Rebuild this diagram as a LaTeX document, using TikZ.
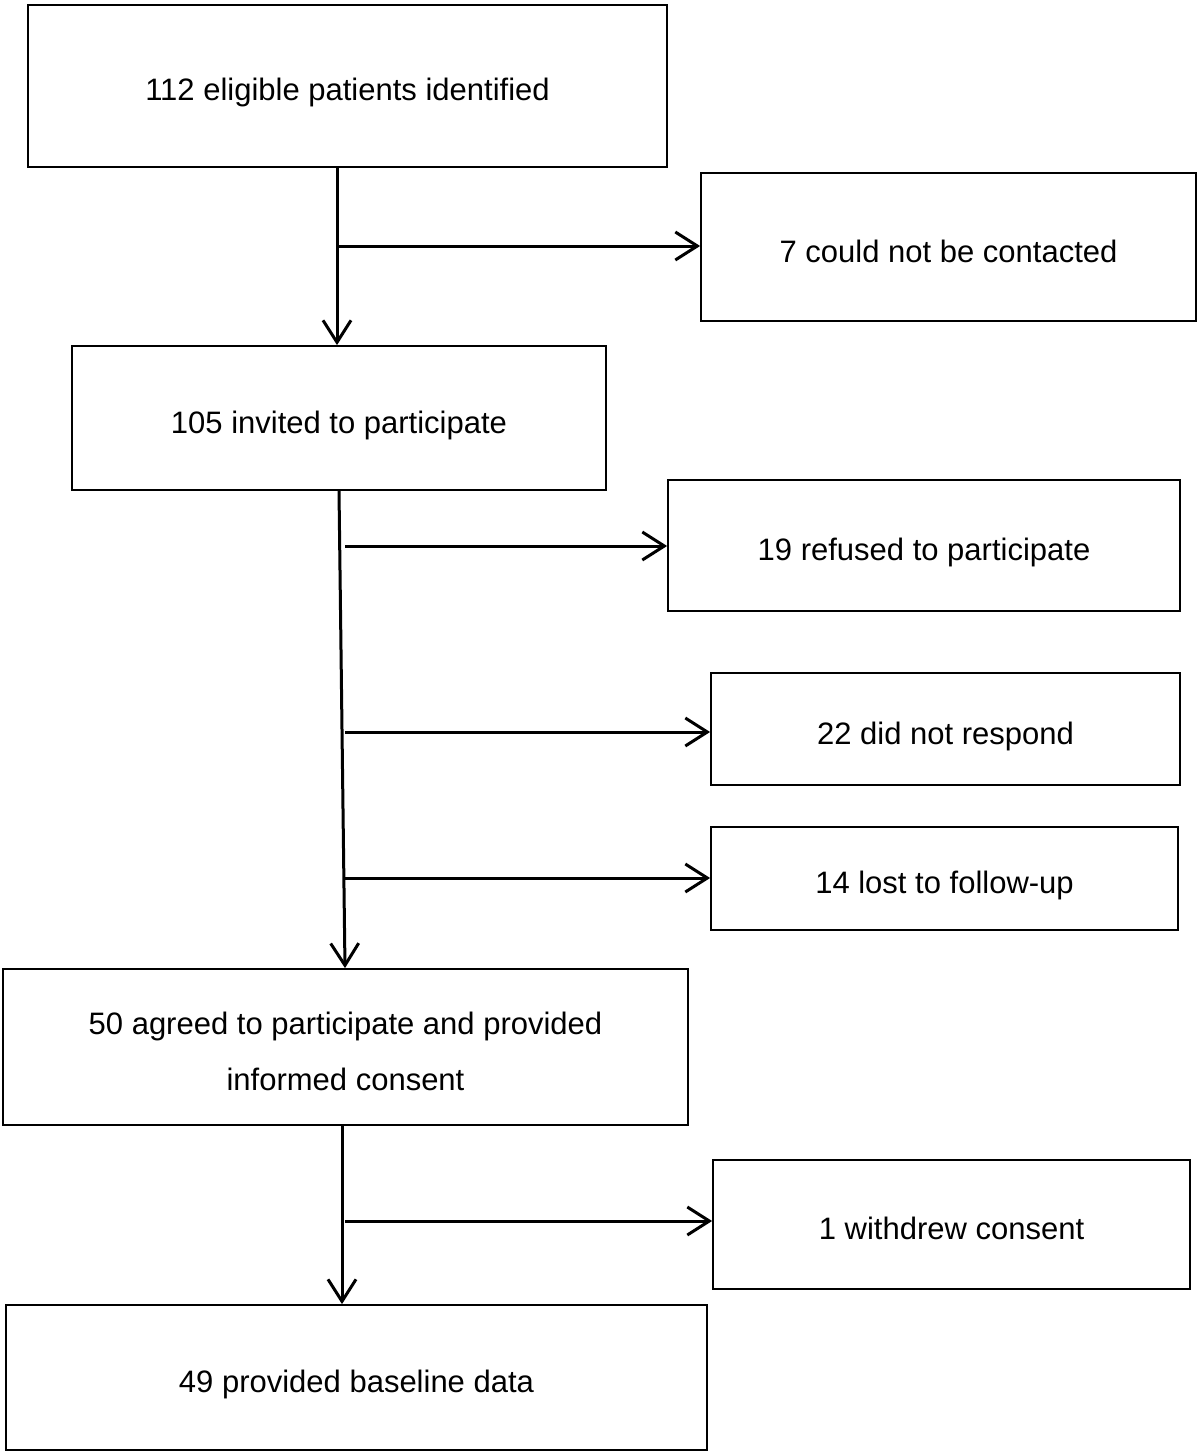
\documentclass[tikz,border=0pt]{standalone}
\usepackage{fontspec}
\setmainfont{Liberation Sans}
\usetikzlibrary{arrows.meta}
\begin{document}
\begin{tikzpicture}[x=1pt,y=-1pt,
  box/.style={draw,line width=1.8pt,inner sep=0pt,align=center,
    text height=30pt,text depth=0pt,
    font=\fontsize{31}{56}\selectfont},
  arr/.style={line width=3pt,-{Straight Barb[length=22pt,width=28pt,line width=3pt]}}]
\useasboundingbox (0,0) rectangle (1200,1453);
\node[box,minimum width=639,minimum height=162] (b1) at (347.5,86) {112 eligible patients identified};
\node[box,minimum width=495,minimum height=148] (b2) at (948.5,247) {7 could not be contacted};
\node[box,minimum width=534,minimum height=144] (b3) at (339,418) {105 invited to participate};
\node[box,minimum width=512,minimum height=131] (b4) at (924,545.5) {19 refused to participate};
\node[box,minimum width=469,minimum height=112] (b5) at (945.5,729) {22 did not respond};
\node[box,minimum width=467,minimum height=103] (b6) at (944.5,878.5) {14 lost to follow-up};
\node[box,minimum width=685,minimum height=156,text height=86pt] (b7) at (345.5,1047) {50 agreed to participate and provided\\informed consent};
\node[box,minimum width=477,minimum height=129] (b8) at (951.5,1224.5) {1 withdrew consent};
\node[box,minimum width=701,minimum height=145] (b9) at (356.5,1377.5) {49 provided baseline data};
% junction coordinates
\coordinate (v1) at (337,0);
\coordinate (v2a) at (339,0);
\coordinate (v2b) at (345,0);
\coordinate (v3) at (342,0);
\coordinate (h1) at (337,246);
\coordinate (h2) at (345,546);
\coordinate (h3) at (345,732);
\coordinate (h4) at (345,878);
\coordinate (h5) at (345,1221);
% connectors
\draw[arr] (b1.south -| v1) -- (b3.north -| v1);
\draw[arr] (h1) -- (h1 -| b2.west);
\draw[arr] (b3.south -| v2a) -- (b7.north -| v2b);
\draw[arr] (h2) -- (h2 -| b4.west);
\draw[arr] (h3) -- (h3 -| b5.west);
\draw[arr] (h4) -- (h4 -| b6.west);
\draw[arr] (b7.south -| v3) -- (b9.north -| v3);
\draw[arr] (h5) -- (h5 -| b8.west);
\end{tikzpicture}
\end{document}
